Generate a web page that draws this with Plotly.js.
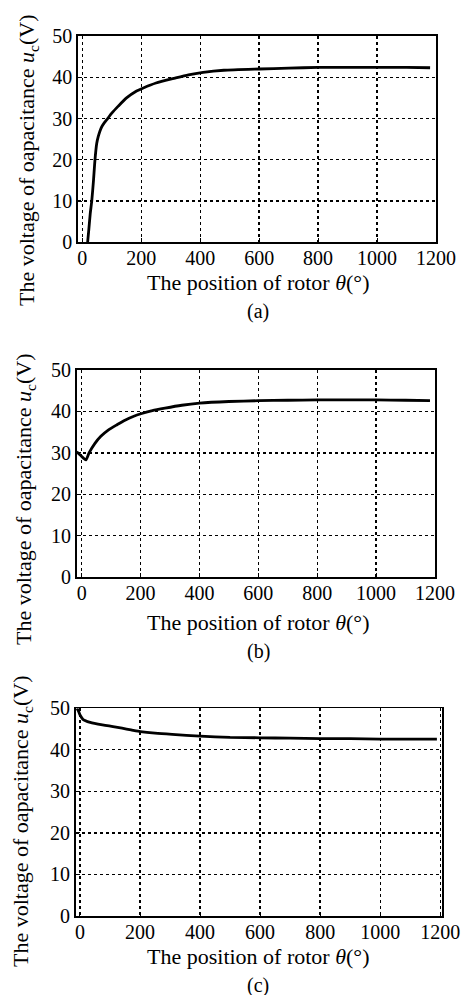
<!DOCTYPE html>
<html>
<head>
<meta charset="utf-8">
<script src="https://cdn.plot.ly/plotly-3.0.1.min.js"></script>
<style>
  html, body { margin: 0; padding: 0; background: #fff; }
  #chart { width: 465px; height: 995px; }
</style>
</head>
<body>
<div id="chart"></div>
<script>
// ---- Data ----
// Panel (a): capacitor voltage starting from 0 V
var thetaA = [18, 22, 27, 32, 38, 43, 49, 54, 60, 66, 75, 86, 100, 122, 150, 180, 207, 250, 314, 360, 410, 480, 600, 700, 800, 900, 1000, 1100, 1180];
var voltA  = [0, 3, 7, 10, 15, 20, 24, 25.6, 27, 28, 29, 30, 31.3, 33, 35, 36.5, 37.4, 38.6, 39.8, 40.6, 41.2, 41.7, 42.0, 42.2, 42.4, 42.4, 42.4, 42.4, 42.3];

// Panel (b): capacitor voltage starting from 30 V
var thetaB = [-17, -5, 5, 14, 25, 45, 65, 90, 120, 147, 175, 204, 240, 283, 340, 400, 500, 600, 700, 800, 900, 1000, 1100, 1183];
var voltB  = [30.3, 29.5, 28.8, 28.3, 30.0, 32.3, 34.0, 35.5, 36.8, 37.9, 38.8, 39.5, 40.2, 40.8, 41.5, 42.0, 42.4, 42.6, 42.7, 42.8, 42.8, 42.8, 42.7, 42.6];

// Panel (c): capacitor voltage starting from 50 V
var thetaC = [-10, -5, 0, 6, 12, 25, 40, 60, 84, 110, 140, 170, 201, 250, 307, 400, 500, 600, 700, 800, 900, 1000, 1100, 1189];
var voltC  = [50.0, 49.3, 48.4, 47.7, 47.2, 46.8, 46.5, 46.2, 45.9, 45.6, 45.2, 44.8, 44.4, 44.0, 43.7, 43.3, 43.0, 42.9, 42.8, 42.7, 42.7, 42.6, 42.6, 42.6];

var xTicks = [0, 200, 400, 600, 800, 1000, 1200];
var yTicks = [0, 10, 20, 30, 40, 50];
var xTitle = "The position of rotor <i>θ</i>(°)";
var yTitle = "The voltage of oapacitance <i>u</i><sub>c</sub>(V)";
var panelLabels = ["(a)", "(b)", "(c)"];

// ---- Layout geometry (pixels in 465x995 page) ----
var W = 465, H = 995;
function px2x(p) { return p / W; }
function px2y(p) { return 1 - p / H; }

var panels = [
  {x: thetaA, y: voltA, left: 78,   right: 436,   top: 36,    bottom: 242.3, xr: [-14.6, 1200], yTitleY: 160, yTitleX: 28, xTitleY: 283, labY: 311},
  {x: thetaB, y: voltB, left: 76.7, right: 435,   top: 370,   bottom: 577.3, xr: [-17, 1200],   yTitleY: 499, yTitleX: 25, xTitleY: 622, labY: 651},
  {x: thetaC, y: voltC, left: 75.7, right: 441.7, top: 708.3, bottom: 916,   xr: [-14.3, 1205], yTitleY: 821, yTitleX: 22, xTitleY: 956, labY: 985}
];

var traces = [];
var layout = {
  width: W, height: H,
  margin: {l: 0, r: 0, t: 0, b: 0},
  paper_bgcolor: "#ffffff",
  plot_bgcolor: "#ffffff",
  showlegend: false,
  annotations: []
};

panels.forEach(function (p, i) {
  var n = i === 0 ? "" : String(i + 1);
  traces.push({
    type: "scatter", mode: "lines",
    x: p.x, y: p.y,
    xaxis: "x" + n, yaxis: "y" + n,
    line: {color: "#000", width: 2.8, shape: "spline", smoothing: 0.6},
    hoverinfo: "skip"
  });
  var xa = {
    domain: [px2x(p.left), px2x(p.right)],
    range: p.xr, tickvals: xTicks, ticktext: xTicks.map(String),
    anchor: "y" + n,
    showgrid: true, gridcolor: "#000", griddash: "dot", gridwidth: 1.3,
    showline: true, linecolor: "#000", linewidth: 1.8, mirror: true,
    ticks: "inside", ticklen: 4, tickcolor: "#000",
    ticklabelstandoff: -3,
    zeroline: false, fixedrange: true,
    tickfont: {family: "Liberation Serif", size: 20, color: "#000"}
  };
  var ya = {
    domain: [px2y(p.bottom), px2y(p.top)],
    range: [0, 50], tickvals: yTicks, ticktext: yTicks.map(String),
    anchor: "x" + n,
    showgrid: true, gridcolor: "#000", griddash: "dot", gridwidth: 1.3,
    showline: true, linecolor: "#000", linewidth: 1.8, mirror: true,
    ticks: "inside", ticklen: 4, tickcolor: "#000",
    zeroline: false, fixedrange: true,
    tickfont: {family: "Liberation Serif", size: 20, color: "#000"}
  };
  layout["xaxis" + n] = xa;
  layout["yaxis" + n] = ya;
  layout.annotations.push({
    xref: "paper", yref: "paper", x: px2x(p.yTitleX), y: px2y(p.yTitleY),
    text: yTitle, textangle: -90, showarrow: false,
    xanchor: "center", yanchor: "middle",
    font: {family: "Liberation Serif", size: 22, color: "#000"}
  });
  layout.annotations.push({
    xref: "paper", yref: "paper", x: px2x(258), y: px2y(p.xTitleY),
    text: xTitle, showarrow: false, xanchor: "center", yanchor: "middle",
    font: {family: "Liberation Serif", size: 22, color: "#000"}
  });
  layout.annotations.push({
    xref: "paper", yref: "paper", x: px2x(258), y: px2y(p.labY),
    text: panelLabels[i], showarrow: false, xanchor: "center", yanchor: "middle",
    font: {family: "Liberation Serif", size: 20, color: "#000"}
  });
});

Plotly.newPlot("chart", traces, layout, {displayModeBar: false, staticPlot: true});
</script>
</body>
</html>
